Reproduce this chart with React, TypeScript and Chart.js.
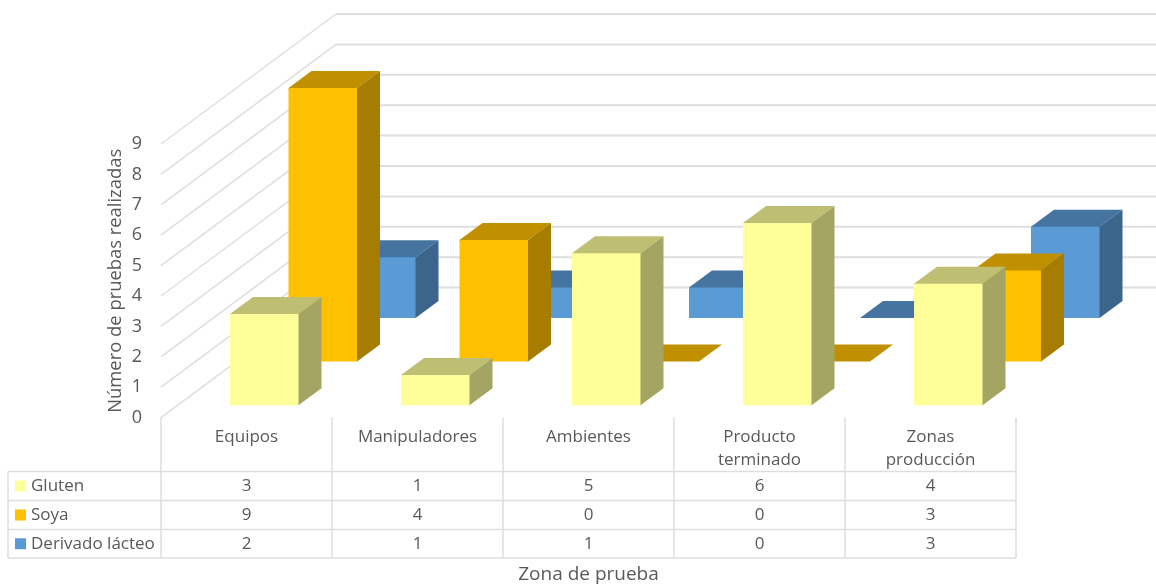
import React, { useEffect, useRef } from "react";
import { Chart, registerables } from "chart.js";

Chart.register(...registerables);

const categories = [
  "Equipos",
  "Manipuladores",
  "Ambientes",
  ["Producto", "terminado"],
  ["Zonas", "producción"],
];
const seriesNames = ["Gluten", "Soya", "Derivado lácteo"];
const gluten = [3, 1, 5, 6, 4];
const soya = [9, 4, 0, 0, 3];
const derivadoLacteo = [2, 1, 1, 0, 3];
const yTicks = [0, 1, 2, 3, 4, 5, 6, 7, 8, 9];

const front = ["#FFFF99", "#FFC000", "#5B9BD5"];
const side = ["#A5A563", "#A67D00", "#3B658A"];
const top = ["#BFBF73", "#C09000", "#44749F"];

const GRID = "#DEDEDE";
const TEXT = "#595959";
const FONT = "'Open Sans', sans-serif";

// Projection of the 3D box: wall depth and per-series floor offset.
const WALL_DX = 175;
const WALL_DY = -130;
const WALL_RIGHT = 1156;
const BAR_DX = 23;
const BAR_DY = -17;
const SERIES_X = [17.75, 76.25, 134.75];
const SERIES_Y = [-12.3, -56, -99.6];

const poly = (ctx: CanvasRenderingContext2D, pts: number[][], fill: string) => {
  ctx.beginPath();
  pts.forEach(([x, y], i) => (i ? ctx.lineTo(x, y) : ctx.moveTo(x, y)));
  ctx.closePath();
  ctx.fillStyle = fill;
  ctx.fill();
};

const wallsPlugin = {
  id: "walls",
  beforeDatasetsDraw(chart: any) {
    const { ctx, scales } = chart;
    const left = scales.x.left;
    ctx.save();
    ctx.strokeStyle = GRID;
    yTicks.forEach((v) => {
      const y = scales.y.getPixelForValue(v);
      ctx.lineWidth = 1.5;
      ctx.beginPath();
      ctx.moveTo(left, y);
      ctx.lineTo(left + WALL_DX, y + WALL_DY);
      ctx.stroke();
      ctx.lineWidth = 2;
      ctx.beginPath();
      ctx.moveTo(left + WALL_DX, y + WALL_DY);
      ctx.lineTo(WALL_RIGHT, y + WALL_DY);
      ctx.stroke();
    });
    ctx.restore();
  },
};

const box3dPlugin = {
  id: "box3d",
  beforeDatasetDraw(chart: any, args: any) {
    const { ctx } = chart;
    const i = args.index;
    const ox = SERIES_X[i];
    const oy = SERIES_Y[i];
    args.meta.data.forEach((bar: any) => {
      const { x, y, base, width } = bar.getProps(["x", "y", "base", "width"], true);
      const l = x - width / 2 + ox;
      const r = x + width / 2 + ox;
      const t = y + oy;
      const b = base + oy;
      if (b - t > 0.5) {
        // The side and top faces run slightly under the front face so no seam shows.
        poly(ctx, [[l, t + 1], [l, t], [l + BAR_DX, t + BAR_DY], [r + BAR_DX, t + BAR_DY], [r, t], [r, t + 1]], top[i]);
        poly(ctx, [[r - 1, t], [r, t], [r + BAR_DX, t + BAR_DY], [r + BAR_DX, b + BAR_DY], [r, b], [r - 1, b]], side[i]);
        poly(ctx, [[l, t], [r, t], [r, b], [l, b]], front[i]);
      } else {
        poly(ctx, [[l, t], [l + BAR_DX, t + BAR_DY], [r + BAR_DX, t + BAR_DY], [r, t]], top[i]);
      }
    });
    return false;
  },
};

const dataTablePlugin = {
  id: "dataTable",
  afterDraw(chart: any) {
    const { ctx, scales } = chart;
    const xs = scales.x;
    const left = xs.left;
    const right = xs.right;
    const step = (right - left) / categories.length;
    const y0 = scales.y.getPixelForValue(0);
    const rows = [471.5, 500.5, 529.5, 558];
    const outer = 8;
    const seriesRows = [gluten, soya, derivadoLacteo];
    ctx.save();
    ctx.strokeStyle = GRID;
    ctx.lineWidth = 1.5;
    ctx.beginPath();
    for (let c = 0; c <= categories.length; c++) {
      ctx.moveTo(left + c * step, y0);
      ctx.lineTo(left + c * step, rows[3]);
    }
    ctx.moveTo(outer, rows[0]);
    ctx.lineTo(outer, rows[3]);
    rows.forEach((y) => {
      ctx.moveTo(outer, y);
      ctx.lineTo(right, y);
    });
    ctx.stroke();

    ctx.font = `17px ${FONT}`;
    ctx.textBaseline = "middle";
    seriesRows.forEach((values, r) => {
      const cy = (rows[r] + rows[r + 1]) / 2;
      ctx.fillStyle = front[r];
      ctx.fillRect(15, cy - 5.5, 11, 11);
      ctx.fillStyle = TEXT;
      ctx.textAlign = "left";
      ctx.fillText(seriesNames[r], 31, cy);
      ctx.textAlign = "center";
      values.forEach((v, c) => {
        ctx.fillText(String(v), xs.getPixelForValue(c), cy);
      });
    });
    ctx.restore();
  },
};

export default function App() {
  const ref = useRef<HTMLCanvasElement>(null);

  useEffect(() => {
    const chart = new Chart(ref.current!, {
      type: "bar",
      data: {
        labels: categories as any,
        datasets: [
          { label: seriesNames[0], data: gluten, backgroundColor: front[0] },
          { label: seriesNames[1], data: soya, backgroundColor: front[1] },
          { label: seriesNames[2], data: derivadoLacteo, backgroundColor: front[2] },
        ],
      },
      options: {
        responsive: false,
        animation: false,
        layout: { padding: { top: 144, right: 140, left: 0, bottom: 0 } },
        plugins: { legend: { display: false }, tooltip: { enabled: false } },
        datasets: { bar: { grouped: false, categoryPercentage: 1, barPercentage: 68.5 / 171 } },
        scales: {
          x: {
            grid: { display: false, drawTicks: false },
            border: { display: false },
            afterFit: (s: any) => {
              s.height = 166.4;
            },
            ticks: {
              color: TEXT,
              font: { family: FONT, size: 17, lineHeight: 1.35 },
              padding: 8,
              maxRotation: 0,
              minRotation: 0,
              autoSkip: false,
            },
            title: {
              display: true,
              text: "Zona de prueba",
              color: TEXT,
              font: { family: FONT, size: 19 },
              padding: { top: 0, bottom: -2 },
            },
          },
          y: {
            min: 0,
            max: 9,
            grid: { display: false, drawTicks: false },
            border: { display: false },
            afterFit: (s: any) => {
              s.width = 161;
            },
            ticks: {
              color: TEXT,
              font: { family: FONT, size: 18 },
              padding: 19,
              stepSize: 1,
            },
            title: {
              display: true,
              text: "Número de pruebas realizadas",
              color: TEXT,
              font: { family: FONT, size: 18.4 },
              padding: { top: 105, bottom: 0 },
            },
          },
        },
      } as any,
      plugins: [wallsPlugin, box3dPlugin, dataTablePlugin],
    });
    return () => chart.destroy();
  }, []);

  return (
    <div style={{ position: "absolute", left: 0, top: 0, width: 1156, height: 584, background: "#fff" }}>
      <canvas ref={ref} width={1156} height={584} style={{ display: "block" }} />
    </div>
  );
}
